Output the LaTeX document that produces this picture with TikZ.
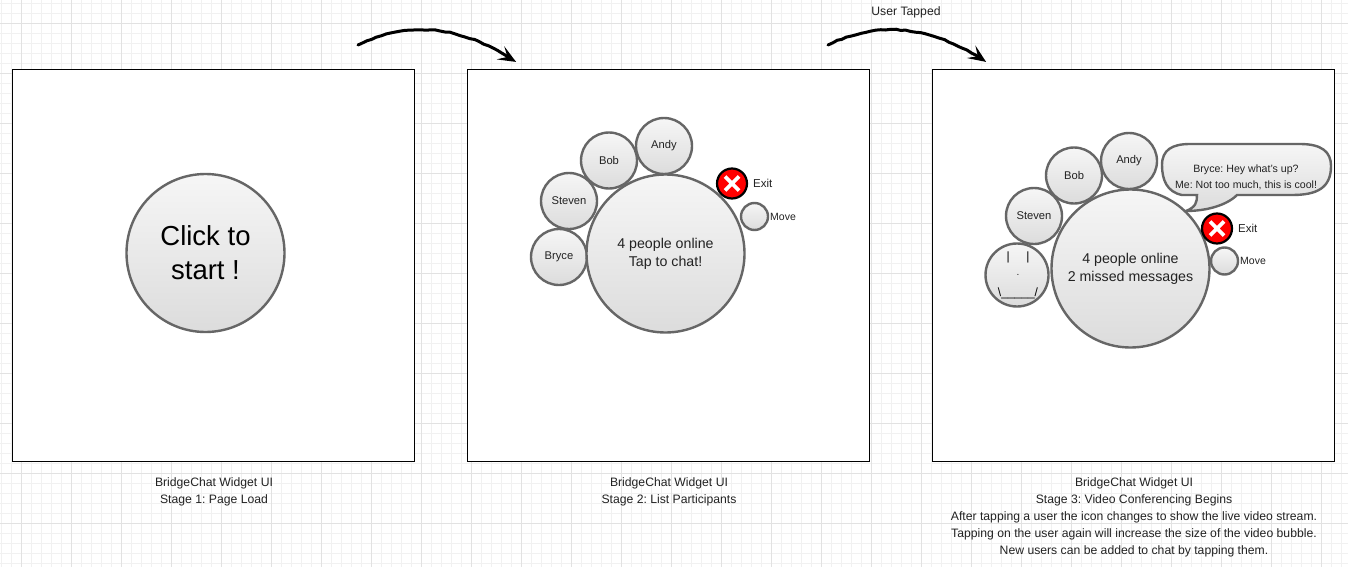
\documentclass[tikz,border=0pt]{standalone}
\usepackage{fontspec}
\setmainfont{Liberation Sans}
\usepackage{xcolor}
\usetikzlibrary{shapes.misc,positioning,arrows.meta,decorations.pathmorphing}
\frenchspacing
\definecolor{gridminor}{HTML}{F1F1F1}
\definecolor{gridmajor}{HTML}{E2E2E2}
\definecolor{rimgray}{HTML}{666666}
\definecolor{inkgray}{HTML}{222222}
\definecolor{bubbletop}{HTML}{F6F6F6}
\definecolor{bubblebottom}{HTML}{DCDCDC}
\tikzset{
    stagebox/.style={draw=black, line width=1pt, fill=white, minimum width=402pt, minimum height=392pt, inner sep=0pt, outer sep=0pt},
    bubble/.style={circle, draw=rimgray, line width=2.4pt, top color=bubbletop, bottom color=bubblebottom, inner sep=0pt, outer sep=0pt, text=inkgray, align=center},
    hubbubble/.style={bubble, minimum size=158pt, font=\fontsize{14.2}{18}\selectfont},
    namebubble/.style={bubble, minimum size=56pt, font=\fontsize{11.2}{13}\selectfont},
    movebubble/.style={bubble, minimum size=27pt},
    exiticon/.style={circle, draw=black, line width=2.2pt, fill=red, minimum size=30pt, inner sep=0pt, outer sep=0pt},
    exitcross/.style={cross out, draw=white, line width=3.8pt, minimum size=14pt, inner sep=0pt, outer sep=0pt},
    tag/.style={font=\fontsize{10.5}{13}\selectfont, text=inkgray, inner sep=0pt},
    caption/.style={font=\fontsize{12.2}{17}\selectfont, text=inkgray, align=center, anchor=north, inner sep=0pt},
    sketcharrow/.style={line width=3pt, line cap=round, -{Stealth[length=18pt,width=15pt,inset=8pt]},
        decorate, decoration={random steps, segment length=5pt, amplitude=0.5pt}}
}

\begin{document}
\begin{tikzpicture}[x=1pt,y=-1pt]
    \useasboundingbox (0,0) rectangle (1348,567);
    \fill[white] (0,0) rectangle (1348,567);

    % Grid
    \foreach \gx in {1.5,11.5,...,1341.5} \draw[gridminor, line width=1pt] (\gx,0) -- (\gx,567);
    \foreach \gy in {3.5,13.5,...,563.5} \draw[gridminor, line width=1pt] (0,\gy) -- (1348,\gy);
    \foreach \gx in {21.5,71.5,...,1321.5} \draw[gridmajor, line width=1pt] (\gx,0) -- (\gx,567);
    \foreach \gy in {23.5,73.5,...,523.5} \draw[gridmajor, line width=1pt] (0,\gy) -- (1348,\gy);

    % Stage 1
    \begin{scope}[xshift=12pt]
        \node[stagebox] (pageA) at (201.5,265.5) {};
        \node[hubbubble, font=\fontsize{27.5}{34}\selectfont, text=black] (hubA) at (193.5,253) {Click to\\start !};
        \node[caption] (captionA) at (202,477) {BridgeChat Widget UI\\Stage 1: Page Load};
    \end{scope}

    % Stage 2
    \begin{scope}[xshift=467pt]
        \node[stagebox] (pageB) at (201.5,265.5) {};
        \node[namebubble] (andyB) at (197,146) {Andy};
        \node[namebubble] (bobB) at (142,160.5) {Bob};
        \node[namebubble] (stevenB) at (102,201) {Steven};
        \node[namebubble] (bryceB) at (92,257) {Bryce};
        \node[hubbubble] (hubB) at (198.5,253.5) {4 people online\\Tap to chat!};
        \node[exiticon] (exitB) at (265,183.5) {};
        \node[exitcross] (crossB) at (exitB) {};
        \node[tag, font=\fontsize{11.5}{13}\selectfont, right=6pt of exitB] (exittagB) {Exit};
        \node[movebubble] (moveB) at (287.5,216.5) {};
        \node[tag, right=2pt of moveB] (movetagB) {Move};
        \node[caption] (captionB) at (202,477) {BridgeChat Widget UI\\Stage 2: List Participants};
    \end{scope}

    % Stage 3
    \begin{scope}[xshift=932pt]
        \node[stagebox] (pageC) at (201.5,265.5) {};
        \shade[top color=bubbletop, bottom color=bubblebottom, draw=rimgray, line width=2.4pt]
            (230,165) .. controls (230,150) and (240,144) .. (258,144)
            -- (368,144) .. controls (390,144) and (399,152) .. (399,166)
            .. controls (399,188) and (385,195) .. (360,195)
            -- (305,195) .. controls (295,205) and (275,211) .. (254,211)
            .. controls (264,207) and (265,202) .. (265,195)
            -- (250,195) .. controls (235,192) and (230,180) .. (230,165) -- cycle;
        \node[tag, align=center, font=\fontsize{10.6}{16}\selectfont] (chatC) at (314,177) {Bryce: Hey what's up?\\Me: Not too much, this is cool!};
        \node[namebubble] (andyC) at (197,161) {Andy};
        \node[namebubble] (bobC) at (142,175.5) {Bob};
        \node[namebubble] (stevenC) at (102,216) {Steven};
        \node[bubble, minimum size=63pt] (bryceC) at (85,275) {};
        \node[tag, font=\fontsize{12}{12}\selectfont, text=black] (eyesC) at (86,257) {|\ \ \ \ \ |};
        \node[tag, font=\fontsize{10}{10}\selectfont] (noseC) at (86,275) {.};
        \node[tag, font=\fontsize{12}{12}\selectfont, text=black] (mouthC) at (86,293) {\textbackslash\_\_\_\_\_/};
        \node[hubbubble] (hubC) at (198.5,268.5) {4 people online\\2 missed messages};
        \node[exiticon] (exitC) at (285,228.5) {};
        \node[exitcross] (crossC) at (exitC) {};
        \node[tag, font=\fontsize{11.5}{13}\selectfont, right=6pt of exitC] (exittagC) {Exit};
        \node[movebubble] (moveC) at (292.5,261) {};
        \node[tag, right=2pt of moveC] (movetagC) {Move};
        \node[caption] (captionC) at (202,477) {BridgeChat Widget UI\\Stage 3: Video Conferencing Begins\\After tapping a user the icon changes to show the live video stream.\\Tapping on the user again will increase the size of the video bubble.\\New users can be added to chat by tapping them.};
    \end{scope}

    % Arrows
    \coordinate (arrowstartA) at (358,45);
    \coordinate (arrowendA) at (516,62);
    \coordinate (arrowstartB) at (828,45);
    \coordinate (arrowendB) at (986,62);
    \draw[sketcharrow] (arrowstartA) .. controls (405,22) and (458,23) .. (arrowendA);
    \draw[sketcharrow] (arrowstartB) .. controls (875,22) and (928,23) .. (arrowendB);
    \node[caption, anchor=center] (tapped) at (906,12) {User Tapped};
\end{tikzpicture}
\end{document}
